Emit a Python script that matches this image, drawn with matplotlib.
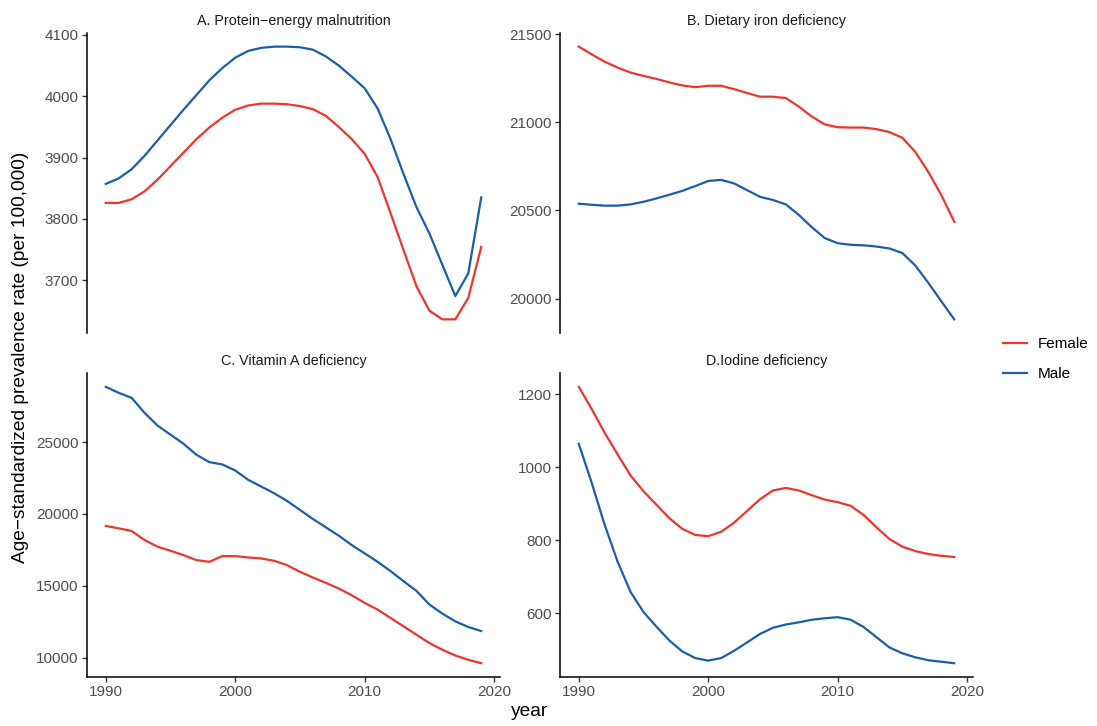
import matplotlib
matplotlib.use("Agg")
import matplotlib.pyplot as plt

plt.rcParams['font.family'] = ['Liberation Sans', 'DejaVu Sans']

years = list(range(1990, 2020))

# A. Protein-energy malnutrition
pem_female = [3826, 3826, 3832, 3845, 3864, 3886, 3908, 3930, 3949, 3965,
              3978, 3985, 3988, 3988, 3987, 3984, 3979, 3968, 3950, 3930,
              3906, 3868, 3809, 3749, 3690, 3650, 3636, 3636, 3671, 3754]
pem_male = [3857, 3866, 3881, 3903, 3928, 3953, 3978, 4002, 4026, 4046,
            4063, 4074, 4079, 4081, 4081, 4080, 4076, 4065, 4050, 4032,
            4013, 3980, 3930, 3873, 3819, 3776, 3725, 3674, 3711, 3835]

# B. Dietary iron deficiency
iron_female = [21429, 21385, 21344, 21310, 21282, 21263, 21246, 21226, 21209, 21199,
               21207, 21207, 21188, 21166, 21145, 21145, 21137, 21089, 21032, 20988,
               20972, 20970, 20970, 20961, 20944, 20912, 20831, 20718, 20587, 20436]
iron_male = [20538, 20532, 20527, 20527, 20534, 20549, 20568, 20589, 20611, 20638,
             20667, 20673, 20653, 20615, 20577, 20559, 20534, 20474, 20405, 20343,
             20314, 20305, 20302, 20295, 20284, 20258, 20187, 20089, 19985, 19882]

# C. Vitamin A deficiency
vita_female = [19162, 18999, 18813, 18185, 17720, 17440, 17138, 16789, 16673, 17068,
               17068, 16975, 16905, 16743, 16440, 15975, 15580, 15207, 14812, 14347,
               13812, 13347, 12765, 12184, 11602, 11021, 10556, 10160, 9858, 9625]
vita_male = [28838, 28419, 28070, 27024, 26140, 25512, 24884, 24116, 23604, 23442,
             23023, 22372, 21906, 21441, 20906, 20278, 19650, 19069, 18487, 17836,
             17254, 16673, 16022, 15324, 14649, 13700, 13068, 12533, 12137, 11858]

# D. Iodine deficiency
iod_female = [1220, 1159, 1094, 1035, 977, 934, 897, 860, 831, 814,
              811, 823, 848, 880, 912, 936, 943, 936, 923, 911,
              904, 894, 869, 835, 803, 782, 770, 762, 757, 754]
iod_male = [1064, 957, 842, 741, 658, 603, 563, 525, 495, 477,
            470, 477, 497, 520, 543, 560, 569, 575, 582, 586,
            589, 582, 562, 534, 506, 490, 479, 471, 467, 463]

titles = ["A. Protein\u2212energy malnutrition", "B. Dietary iron deficiency",
          "C. Vitamin A deficiency", "D.Iodine deficiency"]
female = [pem_female, iron_female, vita_female, iod_female]
male = [pem_male, iron_male, vita_male, iod_male]
yticks = [[3700, 3800, 3900, 4000, 4100],
          [20000, 20500, 21000, 21500],
          [10000, 15000, 20000, 25000],
          [600, 800, 1000, 1200]]

RED = '#F0342A'
BLUE = '#1A5DAB'
GREY = '#4D4D4D'

fig = plt.figure(figsize=(10.97, 7.26), dpi=100)
W, H = 1097, 726
boxes = [(87, 33, 500, 333), (560, 33, 973, 333),
         (87, 373, 500, 677), (560, 373, 973, 677)]

for i, (x0, y0, x1, y1) in enumerate(boxes):
    ax = fig.add_axes([x0 / W, 1 - y1 / H, (x1 - x0) / W, (y1 - y0) / H])
    lf, = ax.plot(years, female[i], color=RED, lw=1.6, label='Female')
    lm, = ax.plot(years, male[i], color=BLUE, lw=1.6, label='Male')
    ax.margins(x=0.05, y=0.05)
    ax.set_yticks(yticks[i])
    ax.set_xticks([1990, 2000, 2010, 2020])
    ax.set_xlim(1988.55, 2020.45)
    for s in ['top', 'right']:
        ax.spines[s].set_visible(False)
    ax.spines['left'].set_linewidth(1.1)
    ax.spines['bottom'].set_linewidth(1.1)
    ax.tick_params(axis='both', labelsize=11, labelcolor=GREY, length=3.5,
                   width=1.0, color='#333333', pad=2.5)
    if i < 2:
        ax.spines['bottom'].set_visible(False)
        ax.tick_params(axis='x', bottom=False, labelbottom=False)
    ax.set_title(titles[i], fontsize=10.3, color='#1A1A1A', pad=6)

fig.text(21 / W, 1 - 357 / H, "Age\u2212standardized prevalence rate (per 100,000)",
         rotation=90, ha='center', va='center', fontsize=13.8)
fig.text(530 / W, 1 - 711 / H, "year", ha='center', va='center', fontsize=13.8)

fig.legend(handles=[lf, lm], labels=['Female', 'Male'], loc='center left',
           bbox_to_anchor=(989 / W, 1 - 359 / H), frameon=False, fontsize=11,
           handlelength=1.6, handletextpad=0.7, labelspacing=1.05)

fig.savefig('out.png', dpi=100)
